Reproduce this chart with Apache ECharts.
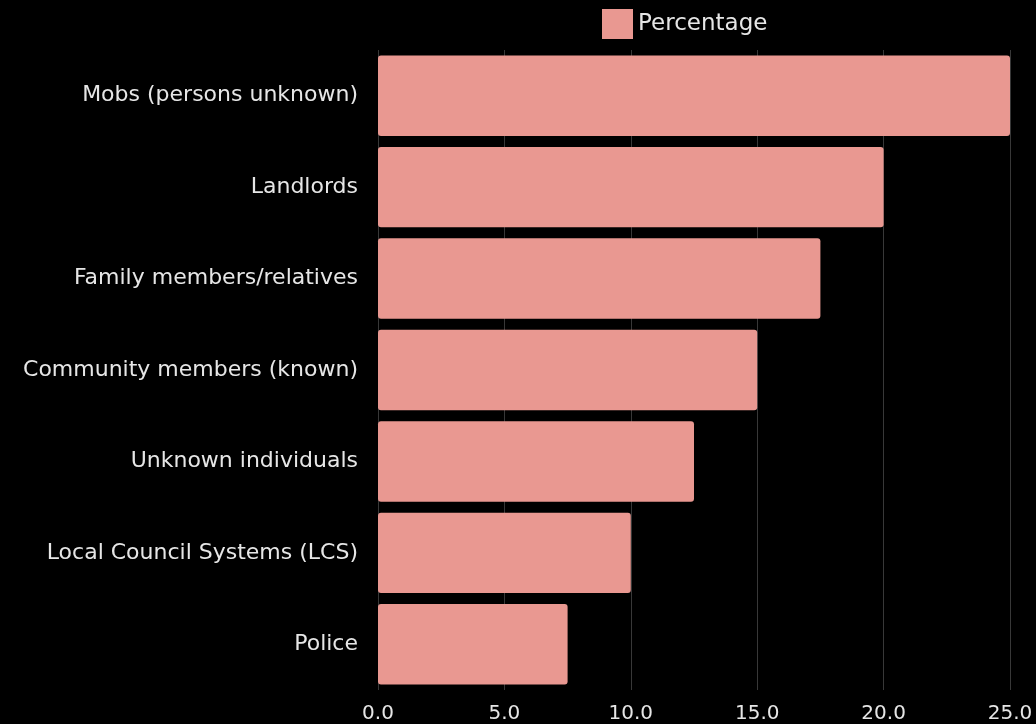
<!DOCTYPE html>
<html>
<head>
<meta charset="utf-8">
<script src="https://cdn.jsdelivr.net/npm/echarts@6/dist/echarts.min.js"></script>
<style>
  html, body { margin: 0; padding: 0; background: #000; }
  #chart { width: 1036px; height: 724px; }
</style>
</head>
<body>
<div id="chart"></div>
<script>
// categories top to bottom
var categories = [
    'Mobs (persons unknown)',
    'Landlords',
    'Family members/relatives',
    'Community members (known)',
    'Unknown individuals',
    'Local Council Systems (LCS)',
    'Police'
];
var percentages = [25, 20, 17.5, 15, 12.5, 10, 7.5];
var seriesName = 'Percentage';

var textColor = '#e6e6e6';
var chart = echarts.init(document.getElementById('chart'));

chart.setOption({
    backgroundColor: '#000',
    animation: false,
    textStyle: { fontFamily: '"DejaVu Sans", sans-serif' },
    legend: {
        data: [seriesName],
        left: 602,
        top: 9,
        padding: 0,
        itemWidth: 31,
        itemHeight: 30,
        itemGap: 10,
        icon: 'rect',
        textStyle: { color: textColor, fontSize: 23 }
    },
    grid: {
        left: 378,
        right: 26,
        top: 50,
        bottom: 32,
        containLabel: false
    },
    xAxis: {
        type: 'value',
        min: 0,
        max: 25,
        interval: 5,
        axisLine: { show: false },
        axisTick: { show: false },
        splitLine: { lineStyle: { color: '#383838', width: 1 } },
        axisLabel: {
            color: textColor,
            fontSize: 20,
            margin: 14,
            formatter: function (v) { return v.toFixed(1); }
        }
    },
    yAxis: {
        type: 'category',
        data: categories,
        inverse: true,
        axisLine: { show: false },
        axisTick: { show: false },
        axisLabel: {
            color: textColor,
            fontSize: 22,
            margin: 20
        }
    },
    series: [{
        name: seriesName,
        type: 'bar',
        data: percentages,
        barCategoryGap: '12%',
        itemStyle: {
            color: '#e99891',
            borderRadius: 3
        }
    }]
});
</script>
</body>
</html>
